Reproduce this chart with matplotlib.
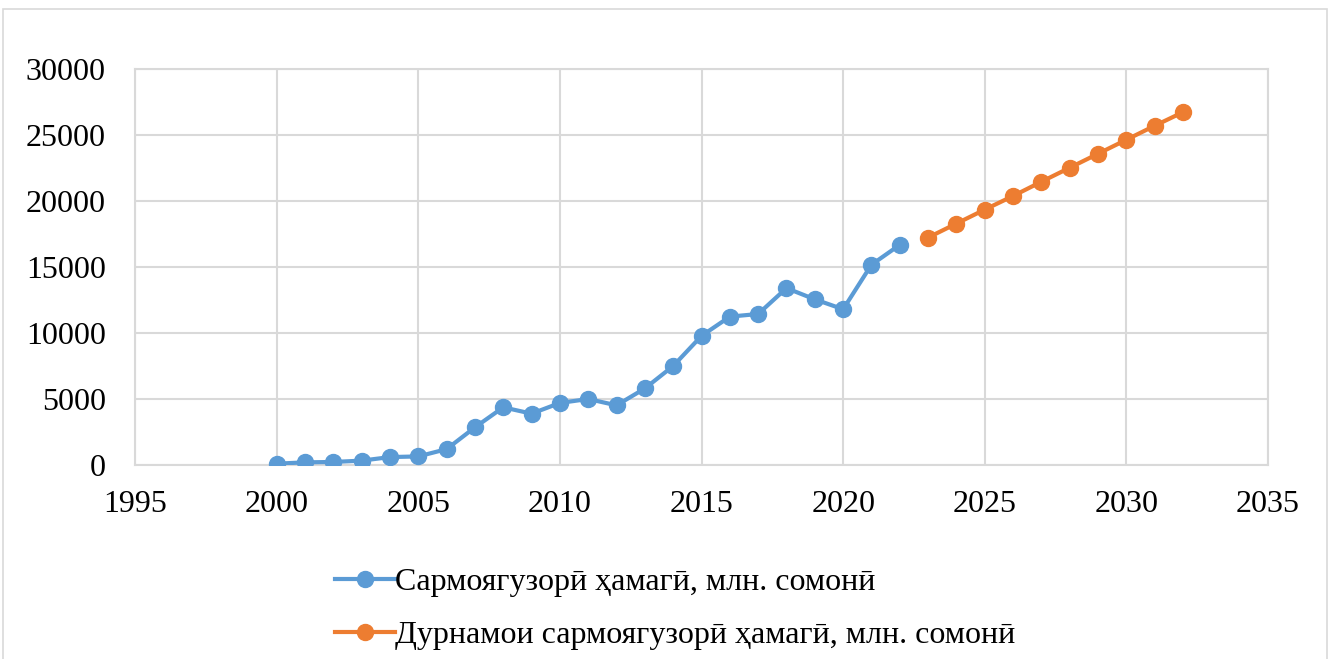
import matplotlib
matplotlib.use("Agg")
import matplotlib.pyplot as plt
from matplotlib.patches import Rectangle

plt.rcParams['font.family'] = ['Liberation Serif', 'DejaVu Serif']

years_actual = list(range(2000, 2023))
invest_actual = [100, 200, 230, 330, 600, 650, 1200, 2850, 4370, 3890, 4700,
                 5000, 4520, 5800, 7500, 9780, 11240, 11440, 13400, 12550,
                 11800, 15170, 16680]

years_forecast = list(range(2023, 2033))
invest_forecast = [17230, 18290, 19350, 20380, 21460, 22520, 23580, 24640,
                   25700, 26730]

label_actual = "Сармоягузорӣ ҳамагӣ, млн. сомонӣ"
label_forecast = "Дурнамои сармоягузорӣ ҳамагӣ, млн. сомонӣ"

blue = "#5B9BD5"
orange = "#ED7D31"
grid_color = "#D9D9D9"

W, H = 1332, 659
fig = plt.figure(figsize=(W / 100, H / 100), dpi=100)
ax = fig.add_axes([135 / W, 1 - 465 / H, (1268 - 135) / W, (465 - 69) / H])

fig.patches.append(Rectangle((3 / W, -0.05), (1327 - 3) / W, 1 - 9 / H + 0.05,
                             transform=fig.transFigure, fill=False,
                             edgecolor="#D9D9D9", linewidth=1.2))

ax.plot(years_actual, invest_actual, color=blue, lw=3, marker="o", ms=11.5,
        label=label_actual, zorder=3)
ax.plot(years_forecast, invest_forecast, color=orange, lw=3, marker="o",
        ms=11.5, label=label_forecast, zorder=3)

ax.set_xlim(1995, 2035)
ax.set_ylim(0, 30000)
ax.set_xticks(range(1995, 2036, 5))
ax.set_yticks(range(0, 30001, 5000))
ax.grid(True, color=grid_color, lw=1.5)
ax.set_axisbelow(True)
for s in ax.spines.values():
    s.set_color(grid_color)
    s.set_linewidth(1.5)
ax.tick_params(length=0, labelsize=23, colors="black")
ax.tick_params(axis="y", pad=21)
ax.tick_params(axis="x", pad=18)

fig.legend(loc="upper left", bbox_to_anchor=(322 / W, 1 - 555 / H),
           frameon=False, fontsize=23, handlelength=1.9, handletextpad=0.0,
           labelspacing=0.74, borderaxespad=0)

fig.savefig("out.png", dpi=100)
